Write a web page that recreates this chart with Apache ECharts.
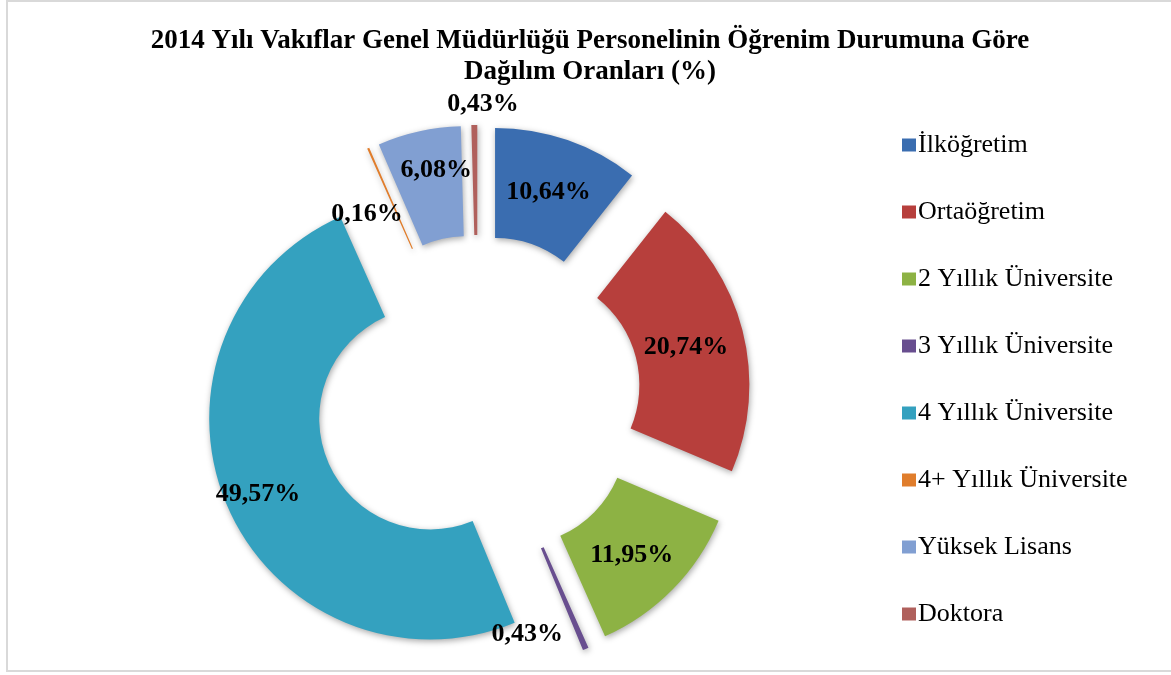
<!DOCTYPE html>
<html>
<head>
<meta charset="utf-8">
<script src="https://cdn.jsdelivr.net/npm/echarts@6/dist/echarts.min.js"></script>
<style>
html,body{margin:0;padding:0;background:#fff;}
#wrap{position:relative;width:1171px;height:675px;overflow:hidden;}
#frame{position:absolute;left:6px;top:0px;width:1180px;height:672px;border:2px solid #d9d9d9;box-sizing:border-box;}
#chart{position:absolute;left:0;top:0;width:1171px;height:675px;}
</style>
</head>
<body>
<div id="wrap"><div id="frame"></div><div id="chart"></div></div>
<script>
const titleText = '2014 Yılı Vakıflar Genel Müdürlüğü Personelinin Öğrenim Durumuna Göre\nDağılım Oranları (%)';
const categories = ['İlköğretim','Ortaöğretim','2 Yıllık Üniversite','3 Yıllık Üniversite','4 Yıllık Üniversite','4+ Yıllık Üniversite','Yüksek Lisans','Doktora'];
const values = [10.64, 20.74, 11.95, 0.43, 49.57, 0.16, 6.08, 0.43];
const colors = ['#3a6db0','#b73f3c','#8db244','#684e8f','#34a1bf','#e07d2c','#819fd2','#b0605c'];
// label nudges (px) relative to the library's inside-label placement
const labelNudges = [[-2, 3], [-6, 4], [-4, 2], [-38, 33], [-17, 9], [-22, 19], [6, -12], [8, -73]];

const chart = echarts.init(document.getElementById('chart'), null, {renderer: 'canvas'});
const fmt = v => v.toFixed(2).replace('.', ',') + '%';
const data = categories.map((name, i) => ({
  name: name,
  value: values[i],
  selected: true,
  itemStyle: {color: colors[i]}
}));

chart.setOption({
  animation: false,
  title: {
    text: titleText,
    left: 585,
    textAlign: 'center',
    top: 21,
    textStyle: {fontFamily: 'Liberation Serif', fontWeight: 'bold', fontSize: 27, lineHeight: 31, color: '#000'}
  },
  legend: {
    orient: 'vertical',
    left: 897,
    top: 127,
    itemWidth: 14,
    itemHeight: 13,
    itemGap: 41,
    icon: 'rect',
    data: categories,
    selectedMode: false,
    textStyle: {fontFamily: 'Liberation Serif', fontSize: 26, color: '#000', padding: [0,0,0,-3]}
  },
  series: [{
    type: 'pie',
    center: [478, 398],
    radius: [111, 221],
    startAngle: 90,
    clockwise: true,
    selectedMode: 'multiple',
    selectedOffset: 52,
    avoidLabelOverlap: false,
    emphasis: {disabled: true},
    itemStyle: {shadowBlur: 6, shadowOffsetX: 1, shadowOffsetY: 2, shadowColor: 'rgba(0,0,0,0.35)'},
    label: {
      show: true,
      position: 'inside',
      formatter: p => fmt(p.value),
      fontFamily: 'Liberation Serif',
      fontWeight: 'bold',
      fontSize: 26,
      color: '#000'
    },
    labelLayout: p => ({dx: labelNudges[p.dataIndex][0], dy: labelNudges[p.dataIndex][1]}),
    labelLine: {show: false},
    data: data
  }]
});
</script>
</body>
</html>
